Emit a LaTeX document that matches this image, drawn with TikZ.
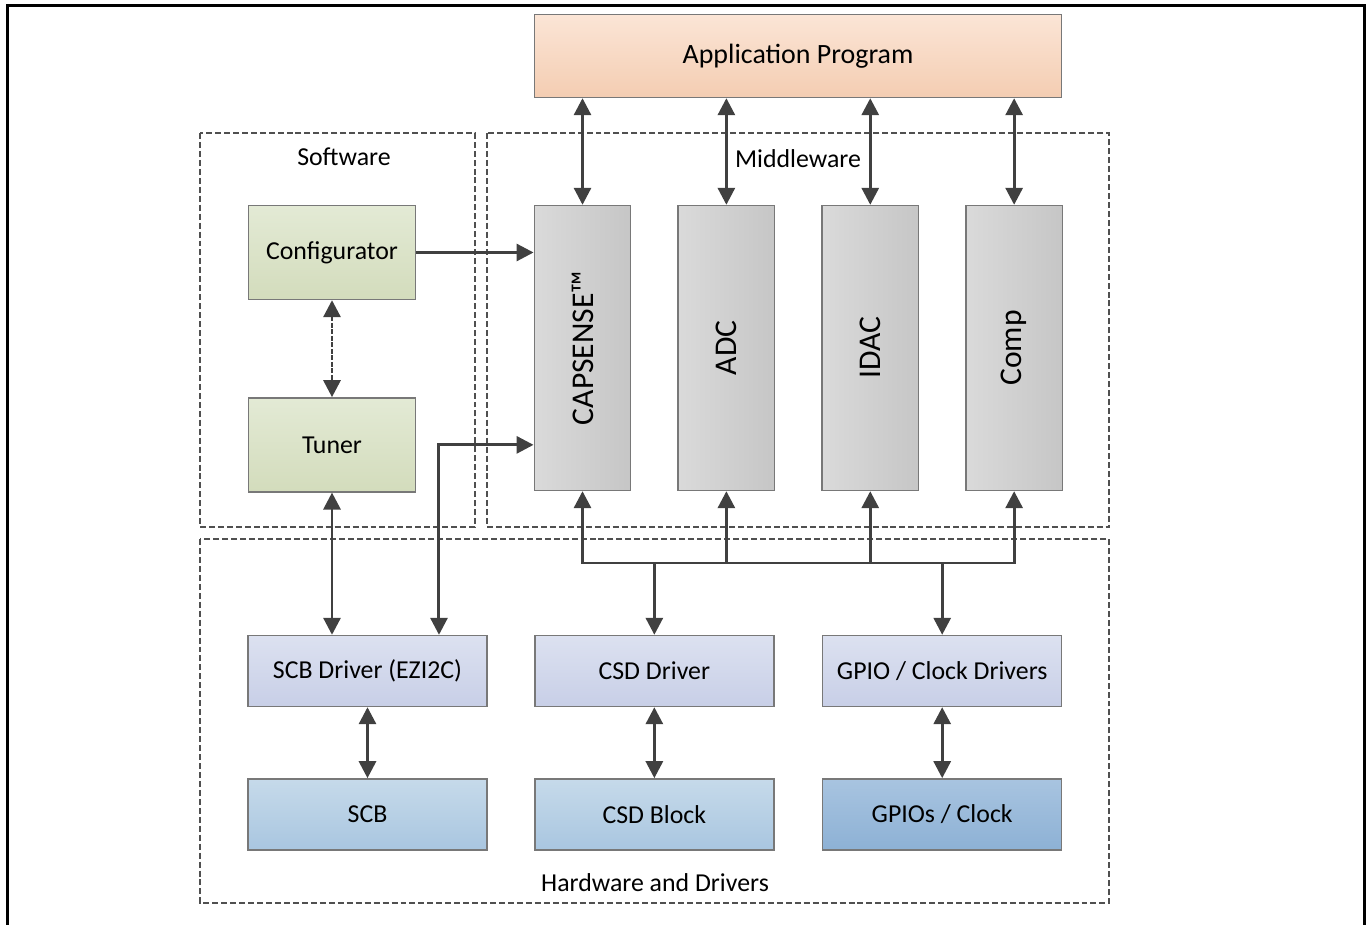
\documentclass[tikz,border=0pt]{standalone}
\usepackage{fontspec}
\setmainfont{Carlito}
\usepackage{tikz}
\usetikzlibrary{arrows.meta}
\usetikzlibrary{positioning}
\definecolor{linkgray}{RGB}{64,64,64}
\definecolor{boxgray}{RGB}{120,120,120}
\definecolor{framegray}{RGB}{80,80,80}
\definecolor{apptop}{RGB}{251,229,214}
\definecolor{appbot}{RGB}{244,205,178}
\definecolor{swtop}{RGB}{227,234,213}
\definecolor{swbot}{RGB}{211,220,188}
\definecolor{midleft}{RGB}{218,218,218}
\definecolor{midright}{RGB}{198,198,198}
\definecolor{drvtop}{RGB}{220,225,240}
\definecolor{drvbot}{RGB}{200,207,231}
\definecolor{hwtop}{RGB}{198,218,234}
\definecolor{hwbot}{RGB}{169,198,224}
\definecolor{gpiotop}{RGB}{168,196,224}
\definecolor{gpiobot}{RGB}{141,177,213}
\tikzstyle{box} = [draw=boxgray,line width=0.8pt,inner sep=0pt,font=\fontsize{14.7}{17}\selectfont]
\tikzstyle{appbox} = [box,top color=apptop,bottom color=appbot,minimum width=10.54cm,minimum height=1.66cm,font=\fontsize{15.9}{19}\selectfont]
\tikzstyle{swbox} = [box,top color=swtop,bottom color=swbot,minimum width=3.34cm,minimum height=1.88cm]
\tikzstyle{midbox} = [box,left color=midleft,right color=midright,minimum width=1.93cm,minimum height=5.70cm,font=\fontsize{18}{21}\selectfont]
\tikzstyle{drvbox} = [box,top color=drvtop,bottom color=drvbot,minimum width=4.78cm,minimum height=1.42cm]
\tikzstyle{hwbox} = [box,top color=hwtop,bottom color=hwbot,minimum width=4.78cm,minimum height=1.42cm]
\tikzstyle{layer} = [draw=framegray,line width=0.7pt,dash pattern=on 3.4pt off 1.7pt]
\tikzstyle{layername} = [font=\fontsize{14.7}{17}\selectfont,inner sep=0pt]
\tikzstyle{link} = [draw=linkgray,line width=1.7pt]

\begin{document}
\begin{tikzpicture}[x=0.02cm,y=-0.02cm,>={Triangle[length=0.34cm,width=0.34cm]}]
    \useasboundingbox (0,0) rectangle (1369,925);

    % outer frame, open at the bottom
    \draw[line width=1.7pt] (7.5,925) -- (7.5,6) -- (1364.5,6) -- (1364.5,925);

    % dashed layers
    \draw[layer] (200,133) rectangle (475,527);
    \draw[layer] (487,133) rectangle (1109,527);
    \draw[layer] (200,539) rectangle (1109,903);
    \node[layername] (swname)  at (344,157) {Software};
    \node[layername] (midname) at (798,159) {Middleware};
    \node[layername] (hwname)  at (655,883) {Hardware and Drivers};

    \node[appbox] (app) at (798,56) {Application Program};

    % software
    \node[swbox] (config) at (332,252.5) {Configurator};
    \node[swbox] (tuner) [below=1.94cm of config] {Tuner};

    % middleware
    \node[midbox] (capsense) at (582.5,348) {\rotatebox{90}{CAPSENSE™}};
    \node[midbox] (adc)  [right=0.92cm of capsense] {\rotatebox{90}{ADC}};
    \node[midbox] (idac) [right=0.92cm of adc] {\rotatebox{90}{IDAC}};
    \node[midbox] (comp) [right=0.92cm of idac] {\rotatebox{90}{Comp}};

    % drivers and hardware
    \node[drvbox] (scbdrv) at (367.5,671) {SCB Driver (EZI2C)};
    \node[drvbox] (csddrv)  [right=0.93cm of scbdrv] {CSD Driver};
    \node[drvbox] (gpiodrv) [right=0.95cm of csddrv] {GPIO / Clock Drivers};
    \node[hwbox] (scb) [below=1.42cm of scbdrv] {SCB};
    \node[hwbox] (csdblk) [below=1.42cm of csddrv] {CSD Block};
    \node[hwbox,top color=gpiotop,bottom color=gpiobot] (gpioblk) [below=1.42cm of gpiodrv] {GPIOs / Clock};

    % connectors
    \foreach \blk in {capsense,adc,idac,comp}
      \draw[link,<->] (app.south -| \blk.north) -- (\blk.north);

    \draw[link,->] (config.east) -- (config.east -| capsense.west);
    \draw[link,<->,dash pattern=on 2.6pt off 1.1pt] (config.south) -- (tuner.north);
    \draw[link,<->] (tuner.south) -- (tuner.south |- scbdrv.north);
    \coordinate (ezport) at ([xshift=1.43cm]scbdrv.north);
    \draw[link,<->] (ezport) |- (tuner.east -| capsense.west);

    % bus under the middleware
    \coordinate (busl) at (582.5,563);
    \coordinate (busr) at (comp.south |- busl);
    \draw[link,->] (busr) -- (busl) -- (capsense.south);
    \draw[link,->] (busl) -- (busr) -- (comp.south);
    \foreach \blk in {adc,idac}
      \draw[link,->] (busl -| \blk.south) -- (\blk.south);
    \foreach \drv in {csddrv,gpiodrv}
      \draw[link,->] (busl -| \drv.north) -- (\drv.north);

    \draw[link,<->] (scbdrv.south) -- (scb.north);
    \draw[link,<->] (csddrv.south) -- (csdblk.north);
    \draw[link,<->] (gpiodrv.south) -- (gpioblk.north);
\end{tikzpicture}
\end{document}
